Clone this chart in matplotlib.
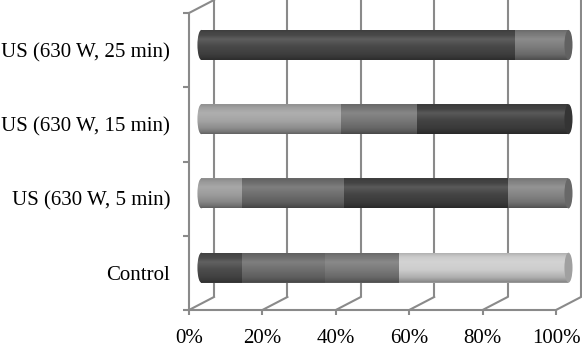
import numpy as np
import matplotlib
matplotlib.use("Agg")
import matplotlib.pyplot as plt
from matplotlib.patches import Ellipse, PathPatch
from matplotlib.path import Path
from matplotlib.colors import to_rgb

# ---------------- data ----------------
categories = ["Control", "US (630 W, 5 min)", "US (630 W, 15 min)", "US (630 W, 25 min)"]
control_values = [11.0, 22.6, 20.2, 46.2]
us5_values = [11.0, 27.8, 44.7, 16.5]
us15_values = [38.0, 20.7, 41.3]
us25_values = [85.5, 14.5]
x_ticks = [0, 20, 40, 60, 80, 100]
x_tick_labels = ["0%", "20%", "40%", "60%", "80%", "100%"]

# ---------------- styles ----------------
control_colors = ["#4c4c4c", "#6e6e6e", "#7a7a7a", "#cdcdcd"]
us5_colors = ["#9c9c9c", "#6e6e6e", "#444444", "#858585"]
us15_colors = ["#a4a4a4", "#777777", "#434343"]
us25_colors = ["#484848", "#7c7c7c"]
grid_color = "#8a8a8a"

rows = [(control_values, control_colors), (us5_values, us5_colors),
        (us15_values, us15_colors), (us25_values, us25_colors)]

plt.rcParams["font.family"] = ["Liberation Serif", "DejaVu Serif"]

fig = plt.figure(figsize=(5.82, 3.5), dpi=100)
ax = fig.add_axes([189 / 582, 40 / 350, 367 / 582, 297 / 350])
ax.set_xlim(0, 100)
ax.set_ylim(-0.5, 3.5)

# depth offset (back wall) in data units
dx = 25 / 367 * 100
dy = 13 / 297 * 4
# bars sit at mid depth
bx = 3.4
by = 0.07
bar_h = 0.404
rx = 1.1  # horizontal radius of cylinder ends

# ---- walls ----
for xt in x_ticks:
    ax.plot([xt + dx, xt + dx], [-0.5 + dy, 3.5 + dy], color=grid_color, lw=1.5,
            clip_on=False, zorder=1, solid_capstyle="butt")
    ax.plot([xt, xt + dx], [-0.5, -0.5 + dy], color=grid_color, lw=1.5,
            clip_on=False, zorder=1)
ax.plot([0, dx], [3.5, 3.5 + dy], color=grid_color, lw=1.5, clip_on=False, zorder=1)

# ---- shading profile (t=0 top, t=1 bottom) ----
n = 60
t = np.linspace(0, 1, n)
fk = np.interp(t, [0, 0.08, 0.3, 0.55, 0.8, 0.93, 1.0],
               [0.86, 0.95, 1.10, 1.0, 0.86, 0.72, 0.6])
overlay = np.zeros((n, 1, 4))
for i, f in enumerate(fk):
    if f >= 1:
        overlay[i, 0, :3] = 1.0
        overlay[i, 0, 3] = (f - 1) * 1.2
    else:
        overlay[i, 0, :3] = 0.0
        overlay[i, 0, 3] = 1 - f

for yi, (vals, cols) in enumerate(rows):
    yc = yi + by
    top = yc + bar_h / 2
    bot = yc - bar_h / 2
    # left rounded edge
    ax.add_patch(Ellipse((bx, yc), 2 * rx, bar_h, facecolor=cols[0], edgecolor="none",
                         zorder=2, clip_on=False))
    ax.barh([yc], vals[0], left=bx, height=bar_h, color=cols[0], zorder=3, clip_on=False)
    left = vals[0]
    for v, c in zip(vals[1:], cols[1:]):
        ax.barh([yc], v, left=bx + left, height=bar_h, color=c, zorder=3, clip_on=False)
        left += v
    # outline path for shading clip
    theta = np.linspace(np.pi / 2, 3 * np.pi / 2, 30)
    ex = bx + rx * np.cos(theta)
    ey = yc + bar_h / 2 * np.sin(theta)
    verts = list(zip(ex, ey)) + [(bx + left, bot), (bx + left, top), (bx, top)]
    codes = [Path.MOVETO] + [Path.LINETO] * (len(verts) - 1)
    clip = PathPatch(Path(verts, codes), transform=ax.transData, facecolor="none",
                     edgecolor="none")
    ax.add_patch(clip)
    im = ax.imshow(overlay, extent=(bx - rx, bx + left, bot, top), aspect="auto",
                   zorder=4, interpolation="bilinear")
    im.set_clip_path(clip)
    im.set_clip_box(fig.bbox)
    # right end cap
    cap = np.array(to_rgb(cols[-1])) * 0.78
    ax.add_patch(Ellipse((bx + left, yc), 2 * rx, bar_h, facecolor=cap, edgecolor="none",
                         zorder=5, clip_on=False))

ax.set_xlim(0, 100)
ax.set_ylim(-0.5, 3.5)

# ---- axes ----
for s in ["top", "right"]:
    ax.spines[s].set_visible(False)
for s in ["left", "bottom"]:
    ax.spines[s].set_color(grid_color)
    ax.spines[s].set_linewidth(1.5)
ax.set_xticks(x_ticks)
ax.set_xticklabels(x_tick_labels, fontsize=15)
ax.set_yticks(range(len(categories)))
ax.set_yticklabels(categories, fontsize=15)
ax.set_yticks([-0.5, 0.5, 1.5, 2.5, 3.5], minor=True)
ax.tick_params(axis="y", which="major", length=0, pad=13.5)
ax.tick_params(axis="y", which="minor", length=4.5, width=1.5, color=grid_color)
ax.tick_params(axis="x", which="major", length=3.8, width=1.5, color=grid_color, pad=10)
ax.patch.set_visible(False)

fig.savefig("out.png", dpi=100, facecolor="white")
